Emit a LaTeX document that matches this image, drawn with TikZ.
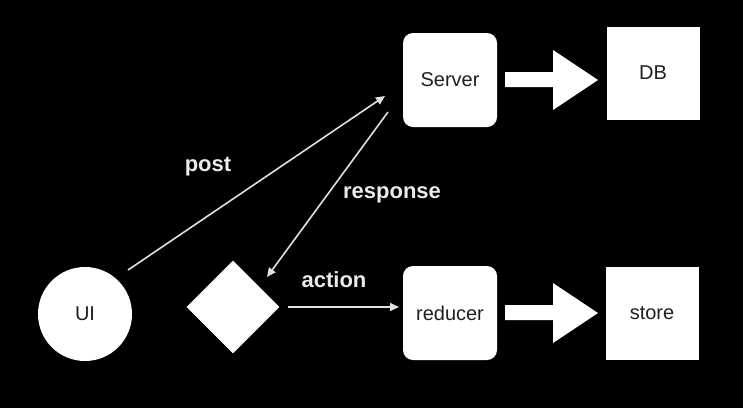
\documentclass[tikz,border=0pt]{standalone}
\usepackage{fontspec}
\setmainfont{Liberation Sans}
\usetikzlibrary{shapes.geometric,arrows.meta}
\begin{document}
\begin{tikzpicture}[x=1pt,y=-1pt,
  boxtext/.style={text=black!88, font=\fontsize{20}{24}\selectfont},
  rbox/.style={boxtext, fill=white, rounded corners=10pt, minimum width=94pt, minimum height=94pt, inner sep=0pt},
  sbox/.style={boxtext, fill=white, minimum width=93pt, minimum height=93pt, inner sep=0pt},
  conn/.style={draw=white!88!black, line width=1.6pt, -{Triangle[length=9pt,width=8pt]}},
  lbl/.style={text=white!92!black, font=\bfseries\fontsize{22}{26}\selectfont},
  bigarrow/.style={fill=white}
]
\fill[black] (0,0) rectangle (743,408);
\useasboundingbox (0,0) rectangle (743,408);
\node[circle, fill=white, minimum size=94pt, inner sep=0pt, boxtext] (ui) at (85,314) {UI};
\node[diamond, fill=white, minimum width=93pt, minimum height=93pt, inner sep=0pt] (dec) at (233,307) {};
\node[rbox] (server) at (450,80) {Server};
\node[sbox] (db) at (653,73) {DB};
\node[rbox] (reducer) at (450,313) {reducer};
\node[sbox] (store) at (652,313) {store};
% big arrows
\fill[bigarrow] (505,72) -- (553,72) -- (553,50) -- (598,80) -- (553,110) -- (553,87) -- (505,87) -- cycle;
\fill[bigarrow] (505,305) -- (553,305) -- (553,283) -- (598,313) -- (553,343) -- (553,320) -- (505,320) -- cycle;
% connectors
\coordinate (p1) at (128,270);
\coordinate (p2) at (385,96);
\draw[conn] (p1) -- (p2);
\coordinate (r1) at (388,112);
\coordinate (r2) at (267,277);
\draw[conn] (r1) -- (r2);
\coordinate (c1) at (288,307);
\coordinate (c2) at (399,307);
\draw[conn] (c1) -- (c2);
\node[lbl] (lpost) at (208,167) {post};
\node[lbl] (lresp) at (392,195) {response};
\node[lbl] (lact) at (334,280) {action};
\end{tikzpicture}
\end{document}
